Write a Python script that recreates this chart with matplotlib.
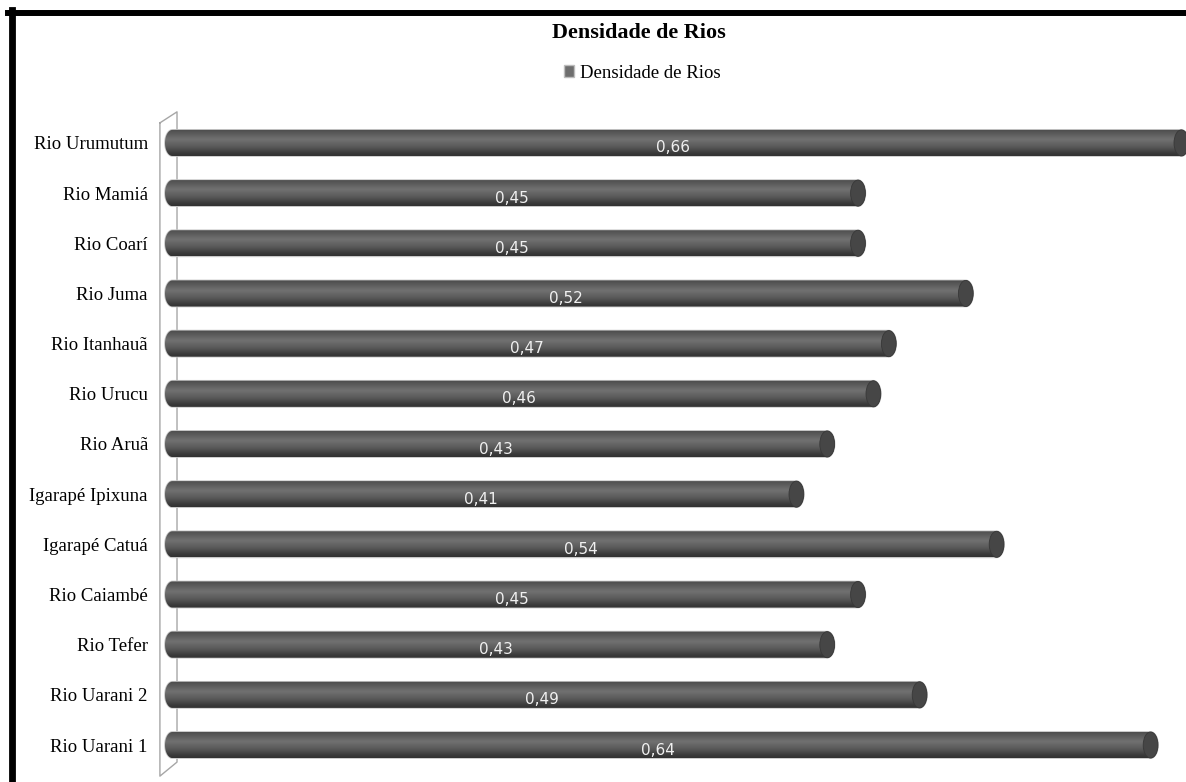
import numpy as np
import matplotlib
matplotlib.use("Agg")
import matplotlib.pyplot as plt
from matplotlib.colors import LinearSegmentedColormap
from matplotlib.patches import PathPatch, Ellipse, Patch
from matplotlib.path import Path
from matplotlib.lines import Line2D

# data (top to bottom as in the picture)
rios = ["Rio Urumutum", "Rio Mamiá", "Rio Coarí", "Rio Juma", "Rio Itanhauã",
        "Rio Urucu", "Rio Aruã", "Igarapé Ipixuna", "Igarapé Catuá",
        "Rio Caiambé", "Rio Tefer", "Rio Uarani 2", "Rio Uarani 1"]
densidade = [0.66, 0.45, 0.45, 0.52, 0.47, 0.46, 0.43, 0.41, 0.54,
             0.45, 0.43, 0.49, 0.64]
titulo = "Densidade de Rios"

W, H = 1186, 782
fig = plt.figure(figsize=(W / 100, H / 100), dpi=100)
fig.patch.set_facecolor("white")

# axes placed in pixels: value 0 at x=165, 1540 px per unit
x_left = 154
ax = fig.add_axes([x_left / W, 0, 1 - x_left / W, (H - 100) / H])
xlim = (-(165 - x_left) / 1540, (W - 165) / 1540)
ylim = (-0.737, 12.856)
for s in ax.spines.values():
    s.set_visible(False)
ax.set_xticks([])

ypos = np.arange(len(rios))[::-1]
ax.set_yticks(ypos)
ax.set_yticklabels(rios, fontfamily="Liberation Serif", fontsize=13.5)
ax.tick_params(axis="y", length=0, pad=4.5)

# 3D wall behind the bars
wall_x = [-0.0033, -0.0033, 0.0078, 0.0078, -0.0033]
wall_y = [12.40, -0.62, -0.34, 12.62, 12.40]
ax.plot(wall_x, wall_y, color="#a6a6a6", lw=1.0, clip_on=False, zorder=1)

cyl = LinearSegmentedColormap.from_list(
    "cyl", [(0, "#4a4a4a"), (0.12, "#575757"), (0.38, "#717171"),
            (0.65, "#5a5a5a"), (0.9, "#3a3a3a"), (1, "#323232")])
grad = np.linspace(0, 1, 64).reshape(-1, 1)

h = 0.52
a = 0.0048
bars = ax.barh(ypos, densidade, height=h, color="none", zorder=2)
t = np.linspace(np.pi / 2, 3 * np.pi / 2, 40)
for bar, v in zip(bars, densidade):
    yc = bar.get_y() + h / 2
    left = np.column_stack([a + a * np.cos(t), yc + h / 2 * np.sin(t)])
    right = np.column_stack([v - a * np.cos(t), yc - h / 2 * np.sin(t)])
    verts = np.vstack([left, right, left[:1]])
    path = Path(verts)
    outline = PathPatch(path, facecolor="none", edgecolor="#c8c8c8",
                        lw=1.2, zorder=2, clip_on=False)
    ax.add_patch(outline)
    clip = PathPatch(path, facecolor="none", edgecolor="none",
                     transform=ax.transData)
    im = ax.imshow(grad, cmap=cyl, aspect="auto", origin="upper",
                   extent=(0, v + a, yc - h / 2, yc + h / 2),
                   zorder=3, interpolation="bilinear")
    im.set_clip_path(clip)
    cap = Ellipse((v, yc), 2 * a, h, facecolor="#464646",
                  edgecolor="#383838", lw=0.6, zorder=4, clip_on=False)
    ax.add_patch(cap)
    ax.text(v / 2, yc - 0.1, f"{v:.2f}".replace(".", ","), ha="center",
            va="center", color="#f0f0f0", fontsize=11,
            fontfamily="DejaVu Sans", zorder=5)

ax.set_xlim(*xlim)
ax.set_ylim(*ylim)

fig.text(639 / W, 1 - 33 / H, titulo, ha="center", va="center",
         fontfamily="Liberation Serif", fontweight="bold", fontsize=15.9)
fig.legend(handles=[Patch(facecolor="#6e6e6e", edgecolor="#bdbdbd",
                          label=titulo)],
           loc="center", bbox_to_anchor=(642 / W, 1 - 73 / H), frameon=False,
           prop={"family": "Liberation Serif", "size": 13.5},
           handlelength=0.55, handleheight=0.55, handletextpad=0.3)

# black frame (top and left)
fig.add_artist(Line2D([8 / W, 1], [1 - 13 / H, 1 - 13 / H], color="black",
                      lw=4.3, transform=fig.transFigure))
fig.add_artist(Line2D([11.5 / W, 11.5 / W], [0, 1 - 10 / H], color="black",
                      lw=4.9, transform=fig.transFigure))

fig.savefig("out.png", dpi=100)
